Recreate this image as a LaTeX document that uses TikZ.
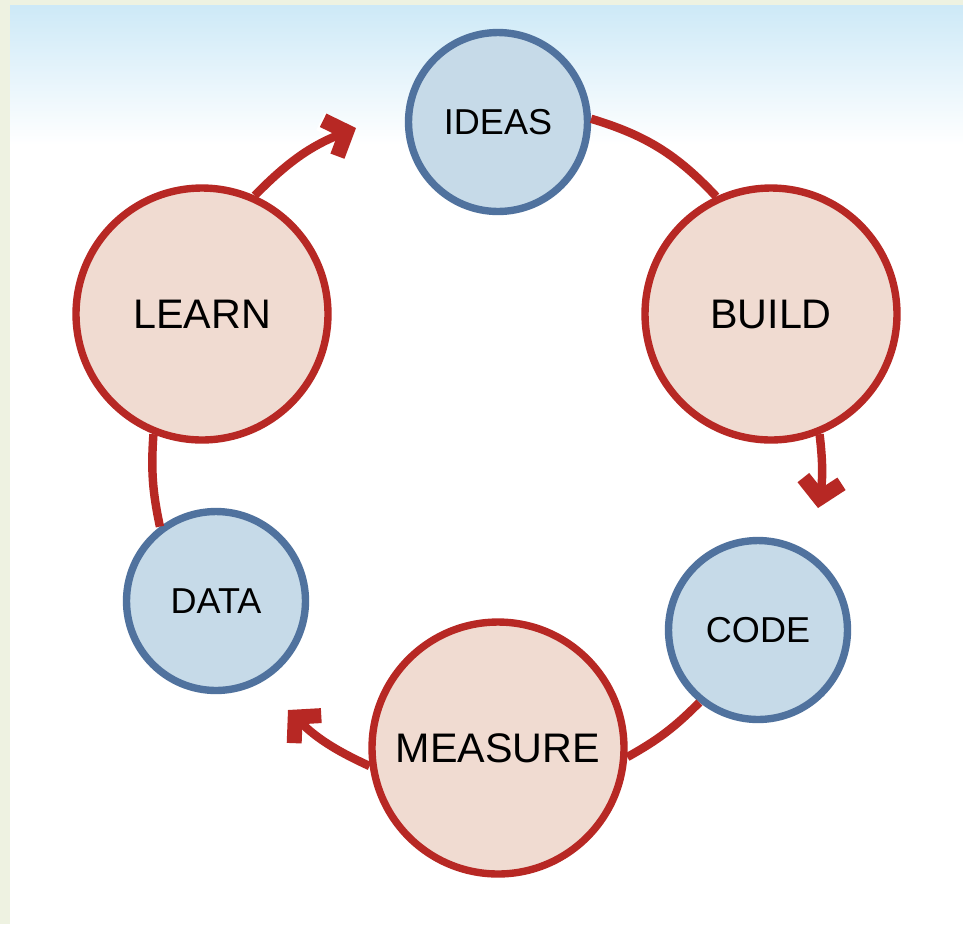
\documentclass[tikz,border=0pt]{standalone}
\usepackage{fontspec}
\setmainfont{Liberation Sans}
\usepackage{xcolor}
\usetikzlibrary{arrows.meta,
	positioning}
\definecolor{loopred}{RGB}{183,40,36}
\definecolor{looppink}{RGB}{240,219,209}
\definecolor{loopblue}{RGB}{80,114,158}
\definecolor{loopsky}{RGB}{198,218,232}
\definecolor{pagegreen}{RGB}{238,242,225}
\definecolor{topsky}{RGB}{205,233,247}

\begin{document}
\begin{tikzpicture}[x=0.02cm, y=-0.02cm,
	bigstage/.style={circle, draw=loopred, fill=looppink, line width=4.2pt, minimum size=5.04cm, inner sep=0pt, font=\fontsize{23.5}{28}\selectfont},
	smallstage/.style={circle, draw=loopblue, fill=loopsky, line width=4.2pt, minimum size=3.58cm, inner sep=0pt, font=\fontsize{20.5}{24}\selectfont},
	link/.style={draw=loopred, line width=4.8pt},
	linkarrow/.style={link, -{Straight Barb[length=10pt, width=22pt, line width=8.5pt]},
		preaction={draw=white, line width=6pt, shorten <=8pt, -{Straight Barb[length=10pt, width=22pt, line width=11pt]}}}]
	% page background
	\fill[pagegreen] (0, 0) rectangle (963, 924);
	\shade[top color=topsky, bottom color=white] (10, 5) rectangle (963, 145);
	\fill[white] (10, 145) rectangle (963, 924);
	% stages of the loop
	\node[smallstage] (ideas) at (498, 122) {IDEAS};
	\node[bigstage] (build) at (771, 314) {BUILD};
	\node[smallstage] (code) at (758, 630) {CODE};
	\node[bigstage] (measure) at (498, 748) {MEASURE};
	\node[smallstage] (data) at (216, 601) {DATA};
	\node[bigstage] (learn) at (202, 314) {LEARN};
	\coordinate (toideas) at (356, 128);
	\coordinate (tocode) at (818, 508);
	\coordinate (todata) at (288, 710);
	% connectors
	\draw[link] (ideas.2) to[bend left=15] (build.115);
	\draw[linkarrow] (build.-68) to[bend left=8] (tocode);
	\draw[link] (code.-129) to[bend left=8] (measure.-4);
	\draw[linkarrow] (measure.188) to[bend left=10] (todata);
	\draw[link] (data.127) to[bend left=8] (learn.248);
	\draw[linkarrow] (learn.66) to[bend left=12] (toideas);
\end{tikzpicture}
\end{document}
